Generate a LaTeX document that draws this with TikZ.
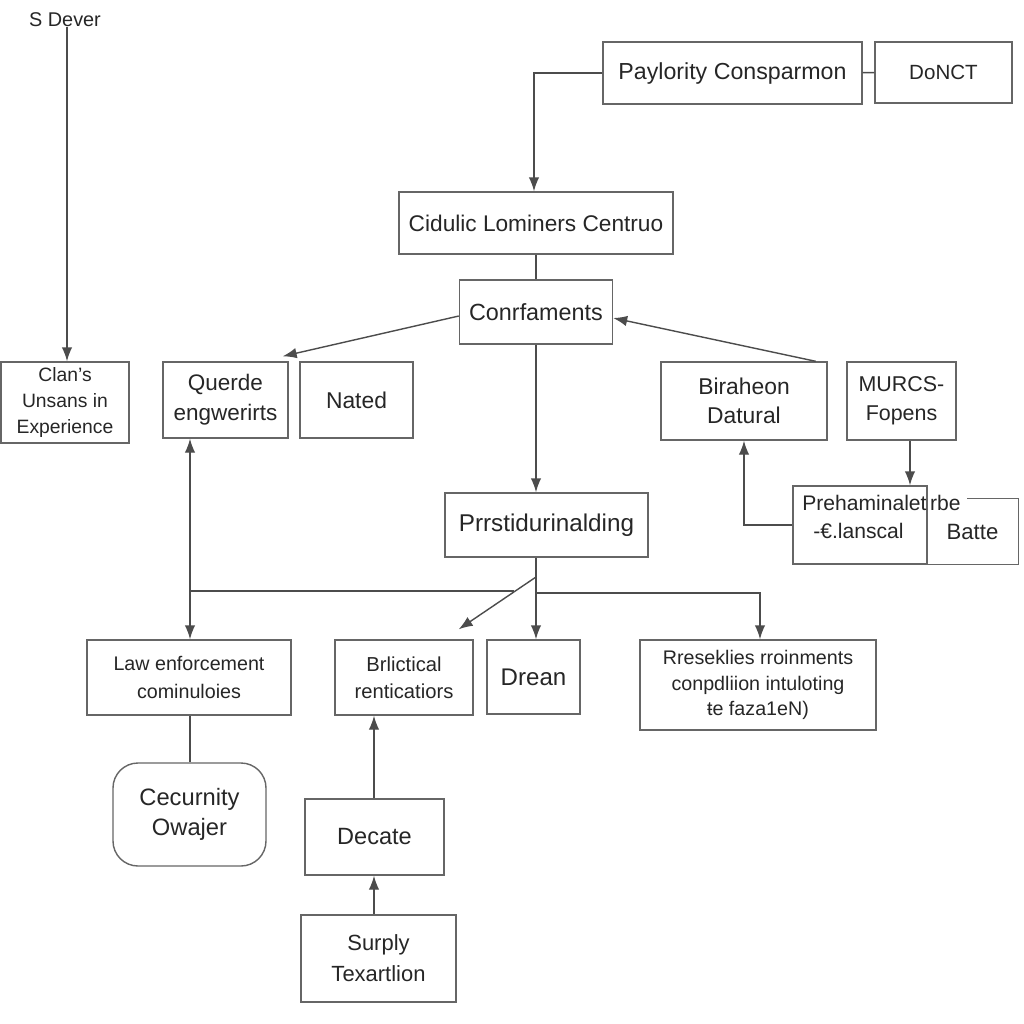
\documentclass[tikz,border=0pt]{standalone}
\usepackage{fontspec}
\setmainfont{Liberation Sans}
\usetikzlibrary{arrows.meta,positioning}
\newcommand{\boxfont}[2]{\fontsize{#1}{#2}\selectfont}
\tikzset{
  box/.style={
    % The shape:
    shape=rectangle,
    % The border:
    draw=black!60, line width=0.8pt,
    % The text:
    align=center, inner sep=0pt, text=black!85,
    font=\boxfont{13}{17}
  }}
\tikzset{
  rbox/.style={
    % same box, with round corners
    box, rounded corners=5mm
  }}
\tikzset{
  % size of a box, given in pixels of the reference
  dim/.style 2 args={minimum width=#1*0.2mm, minimum height=#2*0.2mm},
  txt/.style={inner sep=0pt, text=black!85, align=center},
  wire/.style={draw=black!70, line width=0.8pt},
  arr/.style={wire, -{Latex[length=2.8mm,width=2.1mm]}}}

\begin{document}
\begin{tikzpicture}[x=0.2mm,y=-0.2mm]
	\useasboundingbox (0,0) rectangle (1024,1024);
	% Top row
	\node[txt,font=\boxfont{11.3}{14}] (sdever) at (65,20) {S Dever};
	\node[box,dim={259}{62},font=\boxfont{13.2}{17}] (pay) at (732.5,73) {Paylority Consparmon};
	\node[box,dim={137}{61},font=\boxfont{11.7}{15}] (donct) at (943.5,72.5) {DoNCT};
	\node[box,dim={274}{62},font=\boxfont{12.9}{17}] (cid) at (536,223) {Cidulic Lominers Centruo};
	\node[box,dim={153}{64},font=\boxfont{13.3}{17}] (conr) at (536,312) {Conrfaments};
	% Second row
	\node[box,dim={128}{81},font=\boxfont{11}{14.7}] (clan) at (65,402.5) {Clan's\\Unsans in\\Experience};
	\node[box,dim={125}{76},font=\boxfont{12.8}{17}] (querde) at (225.5,400) {Querde\\engwerirts};
	\node[box,dim={113}{76},font=\boxfont{13}{17}] (nated) at (356.5,400) {Nated};
	\node[box,dim={166}{78},font=\boxfont{13}{16.5}] (bira) at (744,401) {Biraheon\\Datural};
	\node[box,dim={109}{78},font=\boxfont{12.2}{16.5}] (murcs) at (901.5,401) {MURCS-\\Fopens};
	% Third row
	\node[box,dim={203}{64},font=\boxfont{13.8}{17}] (prrs) at (546.5,525) {Prrstidurinalding};
	\node[box,dim={134}{78}] (prehm) at (860,525) {};
	\node[txt,anchor=west,align=left,font=\boxfont{12}{15.9}] (prehmtext) at (802,517) {Prehaminalet\,rbe\\\hspace{2.2mm}-€.lanscal};
	\node[box,draw=none,dim={91}{65},font=\boxfont{12.6}{16}] (batte) at (972.5,531.5) {Batte};
	% Fourth row
	\node[box,dim={204}{75},font=\boxfont{11.2}{15.9}] (law) at (189,677.5) {Law enforcement\\cominuloies};
	\node[box,dim={138}{75},font=\boxfont{11.5}{15.3}] (brl) at (404,677.5) {Brlictical\\renticatiors};
	\node[box,dim={93}{74},font=\boxfont{13.7}{17}] (drean) at (533.5,677) {Drean};
	\node[box,dim={236}{90},font=\boxfont{11.2}{14.7}] (rres) at (758,685) {Rreseklies rroinments\\conpdliion intuloting\\ŧe faza1eN)};
	% Bottom
	\node[rbox,dim={153}{103},font=\boxfont{13.5}{17}] (cec) at (189.5,814.5) {Cecurnity\\Owajer};
	\node[box,dim={139}{76},font=\boxfont{13.4}{17}] (decate) at (374.5,837) {Decate};
	\node[box,dim={155}{87},font=\boxfont{12.5}{17.5}] (surply) at (378.5,958.5) {Surply\\Texartlion};
	% Batte box, open at the top left
	\draw[draw=black!60,line width=0.8pt] ([xshift=8.2mm]batte.north west) -- (batte.north east) -- (batte.south east) -- (batte.south west);
	% Lines out of the top
	\draw[arr] ([xshift=0.4mm]sdever.south) -- ([xshift=0.4mm]sdever.south |- clan.north);
	\draw[wire] (pay) -- (donct);
	\draw[arr] (pay.west) -| ([xshift=-0.4mm]cid.north);
	\draw[wire] (cid) -- (conr);
	% Lines round conr
	\draw[arr] ([yshift=-0.8mm]conr.west) -- ([shift={(-1.2mm,1mm)}]querde.north east);
	\draw[arr] ([xshift=-2.4mm]bira.north east) -- ([yshift=-1.2mm]conr.east);
	\draw[arr] (conr.south) -- (conr.south |- prrs.north);
	% Lines on the right
	\draw[arr] ([xshift=1.7mm]murcs.south) -- ([xshift=1.7mm]murcs.south |- prehm.north);
	\draw[arr] (prehm.west) -| (bira.south);
	% Lines out of prrs
	\coordinate (split) at (536,577);
	\coordinate (lbus) at (190,591);
	\coordinate (lend) at (514,591);
	\coordinate (rbus) at (536,593);
	\coordinate (dcol) at (374,0);
	\draw[arr] (prrs.south -| conr.south) -- (conr.south |- drean.north);
	\draw[arr] (split) -- ([shift={(-3mm,2mm)}]brl.north east);
	\draw[wire] (lend) -- (lbus);
	\draw[arr] (lbus) -- (lbus |- querde.south);
	\draw[arr] (lbus) -- (lbus |- law.north);
	\draw[arr] (rbus) -| ([xshift=0.4mm]rres.north);
	% Lines at the bottom
	\draw[wire] (law.south -| lbus) -- (cec.north -| lbus);
	\draw[arr] (decate.north -| dcol) -- (brl.south -| dcol);
	\draw[arr] (surply.north -| dcol) -- (decate.south -| dcol);
\end{tikzpicture}
\end{document}
